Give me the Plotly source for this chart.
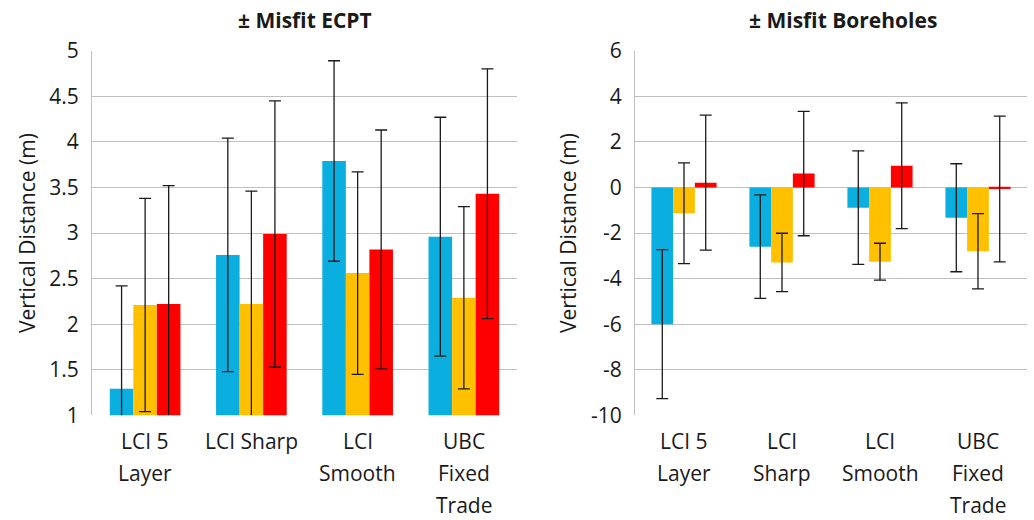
import plotly.graph_objects as go

# ---- data ----
cats_ecpt = ["LCI 5\nLayer", "LCI Sharp", "LCI\nSmooth", "UBC\nFixed\nTrade"]
cats_bh = ["LCI 5\nLayer", "LCI\nSharp", "LCI\nSmooth", "UBC\nFixed\nTrade"]

ecpt_ticks = [1, 1.5, 2, 2.5, 3, 3.5, 4, 4.5, 5]
ecpt_ticklabels = ["1", "1.5", "2", "2.5", "3", "3.5", "4", "4.5", "5"]
bh_ticks = [-10, -8, -6, -4, -2, 0, 2, 4, 6]
bh_ticklabels = ["-10", "-8", "-6", "-4", "-2", "0", "2", "4", "6"]

ecpt_blue = [1.29, 2.76, 3.79, 2.96]
ecpt_blue_err = [1.13, 1.28, 1.10, 1.31]
ecpt_yellow = [2.21, 2.22, 2.56, 2.29]
ecpt_yellow_err = [1.17, 1.24, 1.11, 1.00]
ecpt_red = [2.22, 2.99, 2.82, 3.43]
ecpt_red_err = [1.30, 1.46, 1.31, 1.37]

bh_blue = [-6.00, -2.60, -0.89, -1.33]
bh_blue_err = [3.27, 2.27, 2.49, 2.37]
bh_yellow = [-1.13, -3.29, -3.26, -2.80]
bh_yellow_err = [2.21, 1.28, 0.81, 1.65]
bh_red = [0.21, 0.61, 0.95, -0.07]
bh_red_err = [2.96, 2.73, 2.76, 3.20]

colors = ["#0AAEDF", "#FFC000", "#FF0000"]
FONT = "Open Sans"
W, H = 1034, 520

fig = go.Figure()

def add_bars(cats, vals, errs, color, xa, ya):
    fig.add_trace(go.Bar(
        x=cats, y=vals, marker=dict(color=color, line=dict(width=0)),
        error_y=dict(type="data", array=errs, visible=True, color="#1a1a1a",
                     thickness=1.3, width=6),
        xaxis=xa, yaxis=ya, showlegend=False))

for vals, errs, c in [(ecpt_blue, ecpt_blue_err, colors[0]),
                      (ecpt_yellow, ecpt_yellow_err, colors[1]),
                      (ecpt_red, ecpt_red_err, colors[2])]:
    add_bars(cats_ecpt, vals, errs, c, "x", "y")
for vals, errs, c in [(bh_blue, bh_blue_err, colors[0]),
                      (bh_yellow, bh_yellow_err, colors[1]),
                      (bh_red, bh_red_err, colors[2])]:
    add_bars(cats_bh, vals, errs, c, "x2", "y2")

# plot areas in pixels
L1, R1 = 92, 517
L2, R2 = 635, 1027
TOP, BOT = 50.7, 415.3
ydom = [1 - BOT / H, 1 - TOP / H]

grid = "#C0C0C0"
tickfont = dict(family=FONT, size=21, color="#1a1a1a")
xcommon = dict(type="category", showticklabels=False, showgrid=False,
               showline=False, zeroline=False, ticks="", automargin=False)
ycommon = dict(showgrid=True, gridcolor=grid, gridwidth=1,
               showline=True, linecolor=grid, linewidth=1,
               zeroline=False, ticks="", tickfont=tickfont,
               ticklabelstandoff=8, automargin=False, tickmode="array")
fig.update_layout(
    template="none",
    width=W, height=H, margin=dict(l=0, r=0, t=0, b=0, pad=0),
    paper_bgcolor="white", plot_bgcolor="white",
    barmode="group", bargap=0.335, bargroupgap=0,
    xaxis=dict(domain=[L1 / W, R1 / W], anchor="y", **xcommon),
    xaxis2=dict(domain=[L2 / W, R2 / W], anchor="y2", **xcommon),
    yaxis=dict(domain=ydom, range=[1, 5], tickvals=ecpt_ticks,
               ticktext=ecpt_ticklabels, anchor="x", **ycommon),
    yaxis2=dict(domain=ydom, range=[-10, 6], tickvals=bh_ticks,
                ticktext=bh_ticklabels, anchor="x2", **ycommon),
    font=dict(family=FONT, color="#1a1a1a"),
)

ann = []
for cats, xr in [(cats_ecpt, "x"), (cats_bh, "x2")]:
    for c in cats:
        for i, line in enumerate(c.split("\n")):
            ann.append(dict(x=c, xref=xr, y=(1 - BOT / H), yref="paper",
                            text=line, showarrow=False, xanchor="center",
                            yanchor="middle", yshift=-(26 + 32 * i),
                            font=dict(family=FONT, size=21, color="#1a1a1a")))

# titles
ann.append(dict(x=(L1 + R1) / 2 / W, y=1 - 20 / H, xref="paper", yref="paper",
                text="<b>± Misfit ECPT</b>", showarrow=False,
                xanchor="center", yanchor="middle",
                font=dict(family=FONT, size=21, color="#1a1a1a")))
ann.append(dict(x=843 / W, y=1 - 20 / H, xref="paper", yref="paper",
                text="<b>± Misfit Boreholes</b>", showarrow=False,
                xanchor="center", yanchor="middle",
                font=dict(family=FONT, size=21, color="#1a1a1a")))
# y axis titles
for xp in [27, 568]:
    ann.append(dict(x=xp / W, y=1 - (TOP + BOT) / 2 / H, xref="paper",
                    yref="paper", text="Vertical Distance (m)", showarrow=False,
                    textangle=-90, xanchor="center", yanchor="middle",
                    font=dict(family=FONT, size=21, color="#1a1a1a")))
fig.update_layout(annotations=ann)

fig.write_html("out.html")
